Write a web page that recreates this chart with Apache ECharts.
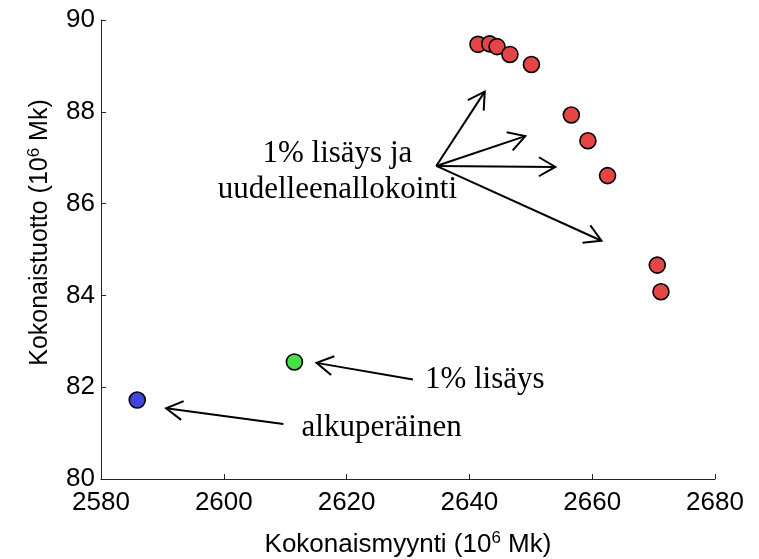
<!DOCTYPE html>
<html>
<head>
<meta charset="utf-8">
<script src="https://cdn.jsdelivr.net/npm/echarts@6/dist/echarts.min.js"></script>
<style>
  html, body { margin: 0; padding: 0; background: #fff; }
  #chart { width: 759px; height: 559px; }
</style>
</head>
<body>
<div id="chart"></div>
<script>
// red: 1% lisäys ja uudelleenallokointi
const salesRed = [2641.4, 2643.3, 2644.5, 2646.6, 2650.1, 2656.6, 2659.3, 2662.5, 2670.6, 2671.2];
const yieldRed = [89.47, 89.48, 89.42, 89.25, 89.03, 87.93, 87.37, 86.61, 84.66, 84.08];
// green: 1% lisäys
const salesGreen = [2611.5];
const yieldGreen = [82.55];
// blue: alkuperäinen
const salesBlue = [2585.9];
const yieldBlue = [81.72];

// arrows (data coordinates)
const arrowFromX = [2634.6, 2634.6, 2634.6, 2634.6, 2630.8, 2609.7];
const arrowFromY = [86.82, 86.82, 86.82, 86.82, 82.17, 81.2];
const arrowToX = [2642.5, 2649.1, 2654.0, 2661.5, 2615.1, 2590.6];
const arrowToY = [88.44, 87.47, 86.8, 85.19, 82.53, 81.54];

// text notes
const noteText = ['1% lisäys ja\nuudelleenallokointi', '1% lisäys', 'alkuperäinen'];
const noteX = [2618.5, 2642.5, 2625.7];
const noteY = [86.69, 82.16, 81.11];

const xTicks = { min: 2580, max: 2680, interval: 20 };
const yTicks = { min: 80, max: 90, interval: 2 };

const chart = echarts.init(document.getElementById('chart'));

const zip = (a, b) => a.map((v, i) => [v, b[i]]);

const dotStyle = (c) => ({ color: c, borderColor: '#000', borderWidth: 1.6, opacity: 1 });

chart.setOption({
  animation: false,
  grid: { left: 101, right: 44, top: 20, bottom: 80, containLabel: false, outerBoundsMode: 'none' },
  xAxis: {
    type: 'value',
    min: xTicks.min, max: xTicks.max, interval: xTicks.interval,
    name: '{a|Kokonaismyynti (10}{s|6}{a| Mk)}',
    nameLocation: 'middle',
    nameGap: 51,
    nameTextStyle: {
      rich: {
        a: { fontFamily: 'Liberation Sans, Arial', fontSize: 26, color: '#000' },
        s: { fontFamily: 'Liberation Sans, Arial', fontSize: 17, color: '#000', verticalAlign: 'top', padding: [0, 0, 12, 0] }
      }
    },
    axisLine: { lineStyle: { color: '#222', width: 1 } },
    axisTick: { inside: true, length: 5, lineStyle: { color: '#222' } },
    axisLabel: { margin: 11, fontFamily: 'Liberation Sans, Arial', fontSize: 26, color: '#000',
      formatter: (v) => String(v) },
    splitLine: { show: false }
  },
  yAxis: {
    type: 'value',
    min: yTicks.min, max: yTicks.max, interval: yTicks.interval,
    name: '{a|Kokonaistuotto (10}{s|6}{a| Mk)}',
    nameLocation: 'middle',
    nameGap: 46,
    nameRotate: 90,
    nameTextStyle: {
      padding: [0, 0, 0, 34],
      rich: {
        a: { fontFamily: 'Liberation Sans, Arial', fontSize: 25, color: '#000' },
        s: { fontFamily: 'Liberation Sans, Arial', fontSize: 17, color: '#000', verticalAlign: 'top', padding: [0, 0, 12, 0] }
      }
    },
    axisLine: { show: true, lineStyle: { color: '#222', width: 1 } },
    axisTick: { show: true, inside: true, length: 5, lineStyle: { color: '#222' } },
    axisLabel: { margin: 6, fontFamily: 'Liberation Sans, Arial', fontSize: 26, color: '#000' },
    splitLine: { show: false }
  },
  series: [
    {
      type: 'custom',
      name: 'arrows',
      encode: { x: [0, 2], y: [1, 3] },
      data: arrowFromX.map((v, i) => [v, arrowFromY[i], arrowToX[i], arrowToY[i]]),
      renderItem: function (params, api) {
        const p1 = api.coord([api.value(0), api.value(1)]);
        const p2 = api.coord([api.value(2), api.value(3)]);
        const ang = Math.atan2(p2[1] - p1[1], p2[0] - p1[0]);
        const L = 19, a = Math.PI / 6;
        const h1 = [p2[0] - L * Math.cos(ang - a), p2[1] - L * Math.sin(ang - a)];
        const h2 = [p2[0] - L * Math.cos(ang + a), p2[1] - L * Math.sin(ang + a)];
        return {
          type: 'group',
          children: [
            { type: 'line', shape: { x1: p1[0], y1: p1[1], x2: p2[0], y2: p2[1] },
              style: { stroke: '#000', lineWidth: 2 } },
            { type: 'polyline', shape: { points: [h1, p2, h2] },
              style: { stroke: '#000', fill: null, lineWidth: 2 } }
          ]
        };
      },
      silent: true,
      z: 1
    },
    {
      type: 'custom',
      name: 'notes',
      data: zip(noteX, noteY),
      renderItem: function (params, api) {
        const p = api.coord([api.value(0), api.value(1)]);
        return {
          type: 'text',
          x: p[0], y: p[1],
          style: {
            text: noteText[params.dataIndex],
            fontFamily: 'Liberation Serif, Times New Roman, serif',
            fontSize: 31,
            lineHeight: 36,
            align: 'center',
            verticalAlign: 'middle',
            fill: '#000'
          }
        };
      },
      silent: true,
      z: 1
    },
    { type: 'scatter', name: 'alkuperäinen', data: zip(salesBlue, yieldBlue), symbolSize: 16, itemStyle: dotStyle('#4343e2'), z: 3 },
    { type: 'scatter', name: '1% lisäys', data: zip(salesGreen, yieldGreen), symbolSize: 16, itemStyle: dotStyle('#45e045'), z: 3 },
    { type: 'scatter', name: '1% lisäys ja uudelleenallokointi', data: zip(salesRed, yieldRed), symbolSize: 16, itemStyle: dotStyle('#e64545'), z: 3 }
  ]
});
</script>
</body>
</html>
